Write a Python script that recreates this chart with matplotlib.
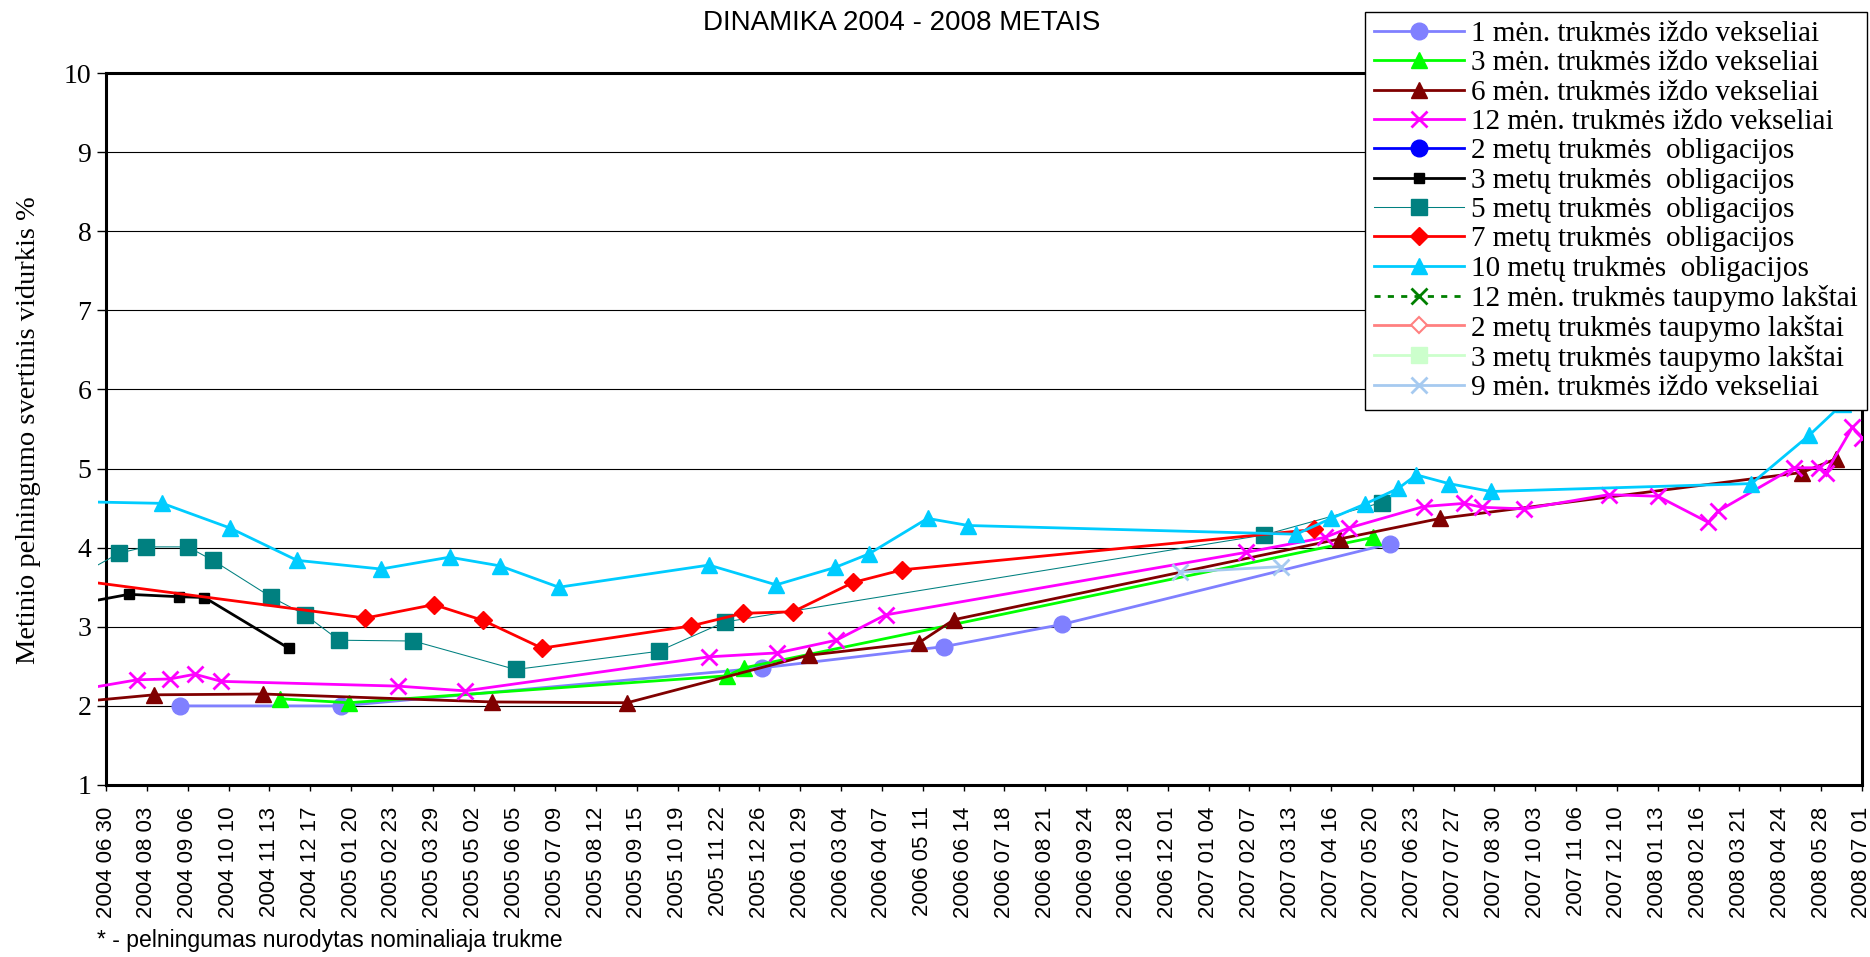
import matplotlib
matplotlib.use("Agg")
import matplotlib.pyplot as plt
import matplotlib.dates as mdates
from matplotlib.transforms import Bbox, TransformedBbox
import pandas as pd

# ---------------- data ----------------
title = "DINAMIKA 2004 - 2008 METAIS"
ylabel = "Metinio pelningumo svertinis vidurkis %"
footnote = "* - pelningumas nurodytas nominaliaja trukme"

labels = [
    "1 mėn. trukmės iždo vekseliai",
    "3 mėn. trukmės iždo vekseliai",
    "6 mėn. trukmės iždo vekseliai",
    "12 mėn. trukmės iždo vekseliai",
    "2 metų trukmės  obligacijos",
    "3 metų trukmės  obligacijos",
    "5 metų trukmės  obligacijos",
    "7 metų trukmės  obligacijos",
    "10 metų trukmės  obligacijos",
    "12 mėn. trukmės taupymo lakštai",
    "2 metų trukmės taupymo lakštai",
    "3 metų trukmės taupymo lakštai",
    "9 mėn. trukmės iždo vekseliai",
]

d_1men = ['2004-08-31', '2005-01-12', '2005-12-28', '2006-05-29', '2006-09-04', '2007-06-04']
v_1men = [2.00, 2.00, 2.48, 2.75, 3.03, 4.05]

d_3men = ['2004-11-22', '2005-01-18', '2005-11-29', '2005-12-13', '2007-05-21']
v_3men = [2.09, 2.04, 2.38, 2.48, 4.13]

d_6men = ['2004-06-10', '2004-08-09', '2004-11-08', '2005-05-17', '2005-09-07', '2006-02-05',
          '2006-05-08', '2006-06-06', '2007-04-23', '2007-07-16', '2008-05-12', '2008-06-09']
v_6men = [2.055, 2.14, 2.15, 2.05, 2.04, 2.64, 2.80, 3.09, 4.11, 4.37, 4.95, 5.12]

d_12men = ['2004-06-10', '2004-07-26', '2004-08-22', '2004-09-12', '2004-10-04', '2005-02-28',
           '2005-04-25', '2005-11-14', '2006-01-10', '2006-02-28', '2006-04-10', '2007-02-04',
           '2007-04-11', '2007-05-01', '2007-07-02', '2007-08-05', '2007-08-20', '2007-09-24',
           '2007-12-03', '2008-01-13', '2008-02-24', '2008-03-03', '2008-05-05', '2008-05-26',
           '2008-06-01', '2008-06-23', '2008-07-01']
v_12men = [2.21, 2.33, 2.34, 2.40, 2.31, 2.25, 2.19, 2.62, 2.67, 2.83, 3.15, 3.94,
           4.13, 4.25, 4.52, 4.56, 4.51, 4.49, 4.67, 4.65, 4.32, 4.46, 5.01, 5.01,
           4.95, 5.52, 5.39]

d_2m = []
v_2m = []

d_3m = ['2004-06-10', '2004-07-19', '2004-08-30', '2004-09-20', '2004-11-29']
v_3m = [3.30, 3.41, 3.38, 3.37, 2.73]

d_5m = ['2004-06-10', '2004-07-11', '2004-08-02', '2004-09-06', '2004-09-27', '2004-11-14',
        '2004-12-13', '2005-01-10', '2005-03-13', '2005-06-06', '2005-10-03', '2005-11-27',
        '2007-02-19', '2007-05-28']
v_5m = [3.67, 3.93, 4.01, 4.01, 3.84, 3.38, 3.15, 2.83, 2.82, 2.46, 2.69, 3.06, 4.16, 4.57]

d_7m = ['2004-06-10', '2005-02-01', '2005-03-30', '2005-05-10', '2005-06-28', '2005-10-30',
        '2005-12-12', '2006-01-23', '2006-03-14', '2006-04-24', '2007-04-02']
v_7m = [3.58, 3.11, 3.28, 3.08, 2.73, 3.01, 3.17, 3.19, 3.56, 3.72, 4.23]

d_10m = ['2004-06-10', '2004-08-16', '2004-10-11', '2004-12-06', '2005-02-14', '2005-04-12',
         '2005-05-24', '2005-07-12', '2005-11-14', '2006-01-09', '2006-02-27', '2006-03-27',
         '2006-05-15', '2006-06-18', '2007-03-18', '2007-04-16', '2007-05-14', '2007-06-11',
         '2007-06-26', '2007-07-23', '2007-08-27', '2008-03-31', '2008-05-18', '2008-06-15',
         '2008-07-14']
v_10m = [4.58, 4.56, 4.25, 3.84, 3.73, 3.88, 3.77, 3.50, 3.78, 3.53, 3.75, 3.92,
         4.37, 4.28, 4.17, 4.37, 4.55, 4.75, 4.92, 4.81, 4.71, 4.81, 5.42, 5.82, 6.30]

d_12tl = []
v_12tl = []
d_2tl = []
v_2tl = []
d_3tl = []
v_3tl = []

d_9men = ['2006-12-11', '2007-03-05']
v_9men = [3.69, 3.76]

x_start = '2004-06-30'
x_end = '2008-07-01'
tick_step_days = 34

# ---------------- plotting ----------------
SERIF = ['Liberation Serif', 'DejaVu Serif']
SANS = ['Liberation Sans', 'DejaVu Sans']

fig = plt.figure(figsize=(18.70, 9.57), dpi=100)
ax = fig.add_axes([106 / 1870, 1 - 785 / 957, (1862 - 106) / 1870, (785 - 73) / 957])

series = [
    (d_1men, v_1men, dict(color='#8080FF', marker='o', ms=12, lw=2.0)),
    (d_3men, v_3men, dict(color='#00FF00', marker='^', ms=12, lw=2.0)),
    (d_6men, v_6men, dict(color='#800000', marker='^', ms=12, lw=2.0)),
    (d_12men, v_12men, dict(color='#FF00FF', marker='x', ms=12, mew=2.0, lw=2.0)),
    (d_2m, v_2m, dict(color='#0000FF', marker='o', ms=12, lw=2.0)),
    (d_3m, v_3m, dict(color='black', marker='s', ms=7, lw=2.0)),
    (d_5m, v_5m, dict(color='#008080', marker='s', ms=12, lw=0.75)),
    (d_7m, v_7m, dict(color='#FF0000', marker='D', ms=9, lw=2.0)),
    (d_10m, v_10m, dict(color='#00CCFF', marker='^', ms=12, lw=2.0)),
    (d_12tl, v_12tl, dict(color='#008000', marker='x', ms=11, mew=2.0, lw=2.0,
                          linestyle=(0, (2.2, 2.6)))),
    (d_2tl, v_2tl, dict(color='#FF8080', marker='D', ms=8, mfc='white', mew=1.5, lw=2.0)),
    (d_3tl, v_3tl, dict(color='#CCFFCC', marker='s', ms=12, lw=2.0)),
    (d_9men, v_9men, dict(color='#A6CAF0', marker='x', ms=12, mew=2.0, lw=2.0)),
]

clip = TransformedBbox(Bbox([[-0.0048, 0.0], [1.0, 1.0]]), ax.transAxes)
handles = []
for i, (d, v, st) in enumerate(series):
    line, = ax.plot(pd.to_datetime(d), v, zorder=3 + i, **st)
    line.set_clip_box(clip)
    handles.append(line)

ax.set_xlim(pd.Timestamp(x_start), pd.Timestamp(x_end))
ax.set_ylim(1, 10)
ax.set_yticks(range(1, 11))
ticks = pd.date_range(x_start, x_end, freq=f'{tick_step_days}D')
ax.set_xticks(ticks)
ax.set_xticklabels([t.strftime('%Y %m %d') for t in ticks], rotation=90,
                   family=SANS, fontsize=16)
for lab in ax.get_yticklabels():
    lab.set_family(SERIF)
    lab.set_fontsize(20)

ax.tick_params(axis='x', direction='out', length=4.5, width=1, pad=11)
ax.tick_params(axis='y', direction='out', length=6.5, width=1, pad=4)
for s in ax.spines.values():
    s.set_linewidth(2.2)
    s.set_color('black')

for yv in range(2, 10):
    ax.axhline(yv, color='black', lw=0.8, zorder=1)

fig.text(902 / 1870, 1 - 29.5 / 957, title, ha='center', va='baseline',
         family=SANS, fontsize=20)
fig.text(29 / 1870, 1 - 430 / 957, ylabel, ha='center', va='center', rotation=90,
         family=SERIF, fontsize=20.5)
fig.text(97 / 1870, 1 - 947 / 957, footnote, ha='left', va='baseline',
         family=SANS, fontsize=16.6)

leg = ax.legend(handles, labels, loc='upper left',
                bbox_to_anchor=(1365 / 1870, 1 - 12 / 957), bbox_transform=fig.transFigure,
                borderaxespad=0, borderpad=0.3, labelspacing=0.1, handlelength=3.1,
                handletextpad=0.25, numpoints=1, fancybox=False, framealpha=1,
                edgecolor='black', prop={'family': SERIF, 'size': 21})
leg.get_frame().set_linewidth(1.0)
leg.set_zorder(50)

fig.savefig('out.png', dpi=100)
